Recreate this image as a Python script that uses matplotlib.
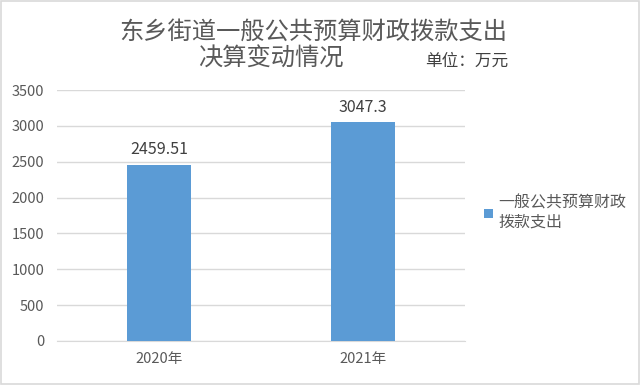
import matplotlib
matplotlib.use("Agg")
import matplotlib.pyplot as plt
from matplotlib.patches import Rectangle

plt.rcParams['font.family'] = ['Noto Sans CJK SC', 'DejaVu Sans']

categories = ["2020年", "2021年"]
values = [2459.51, 3047.3]
value_labels = ["2459.51", "3047.3"]
yticks = [0, 500, 1000, 1500, 2000, 2500, 3000, 3500]
series_name = "一般公共预算财政\n拨款支出"

fig = plt.figure(figsize=(6.4, 3.85), dpi=100)
fig.patches.append(Rectangle((0.002, 0.003), 0.996, 0.994, transform=fig.transFigure,
                             fill=False, edgecolor='#d9d9d9', linewidth=1.2))

ax = fig.add_axes([57/640, 44/385, 408/640, 251/385])
x = list(range(len(categories)))
bars = ax.bar(x, values, width=0.31, color='#5b9bd5', zorder=3)
ax.set_xlim(-0.5, 1.5)
ax.set_ylim(0, 3500)
ax.set_yticks(yticks)
ax.set_yticklabels([str(v) for v in yticks])
ax.set_xticks(x)
ax.set_xticklabels(categories)
ax.grid(axis='y', color='#d9d9d9', linewidth=1, zorder=0)
for s in ['top', 'right', 'left']:
    ax.spines[s].set_visible(False)
ax.spines['bottom'].set_color('#d9d9d9')
ax.tick_params(axis='both', length=0, colors='#595959', labelsize=10.5)
ax.tick_params(axis='y', pad=9)
ax.tick_params(axis='x', pad=8)

for xi, v, lab in zip(x, values, value_labels):
    ax.text(xi, v + 90, lab, ha='center', va='bottom', fontsize=11.5, color='#404040')

fig.text(313/640, 1 - 32/385, "东乡街道一般公共预算财政拨款支出", ha='center', va='center',
         fontsize=17.5, color='#595959')
fig.text(271/640, 1 - 59/385, "决算变动情况", ha='center', va='center',
         fontsize=17.5, color='#595959')
fig.text(467/640, 1 - 61/385, "单位：万元", ha='center', va='center',
         fontsize=12, color='#404040')

leg = ax.legend([bars], [series_name], loc='upper left', bbox_to_anchor=(470/640, 1 - 180/385),
                bbox_transform=fig.transFigure, frameon=False, fontsize=11.5,
                handlelength=0.55, handleheight=0.55, handletextpad=0.3, labelcolor='#595959')

fig.savefig("out.png", dpi=100)
